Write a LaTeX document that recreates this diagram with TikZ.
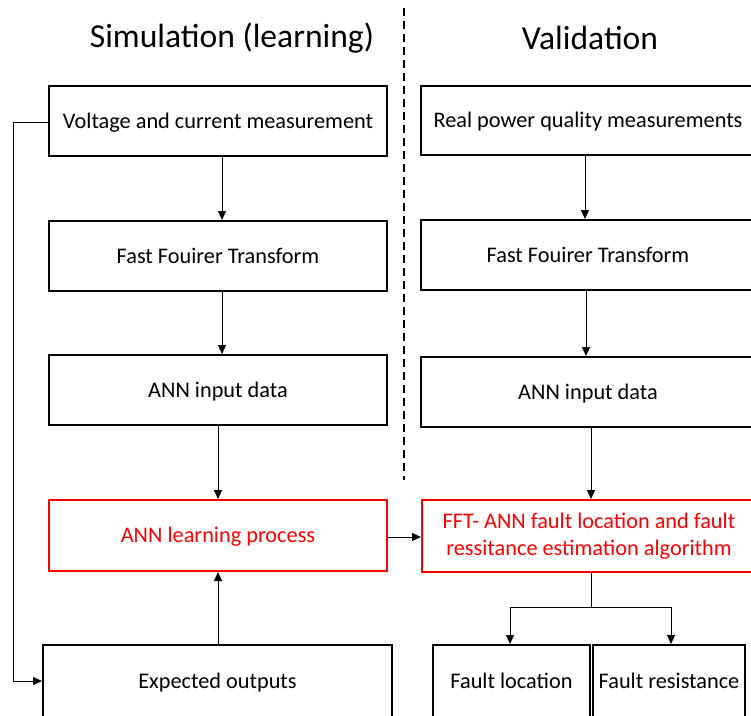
\documentclass[tikz,border=0pt]{standalone}
\usepackage{fontspec}
\setmainfont{Carlito}
\usetikzlibrary{arrows.meta}
\definecolor{flowred}{RGB}{255,0,0}
\tikzset{
  x=1pt, y=-1pt,
  framebox/.style={draw=black, line width=2pt, minimum width=338pt, minimum height=70pt,
    inner sep=0pt, font=\fontsize{22.3}{27}\selectfont, align=center},
  stepbox/.style={framebox, text height=18pt, text depth=4pt},
  redbox/.style={stepbox, draw=flowred, text=flowred},
  redtwoline/.style={framebox, draw=flowred, text=flowred},
  link/.style={line width=0.9pt, -{Triangle[length=9pt,width=8pt]}},
  plainlink/.style={line width=0.9pt},
  heading/.style={font=\fontsize{33.6}{38}\selectfont, inner sep=0pt}
}
\begin{document}
\begin{tikzpicture}
\useasboundingbox (0,0) rectangle (751,715);
\clip (0,0) rectangle (751,715);
\fill[white] (0,0) rectangle (751,715);

% column headings and separator
\node[heading] (hsim) at (232,38) {Simulation (learning)};
\node[heading] (hval) at (590,38) {Validation};
\draw[line width=1.6pt, dash pattern=on 8pt off 5pt] (404,8) -- (404,480);

% simulation column
\node[stepbox] (meas) at (218,121) {Voltage and current measurement};
\node[stepbox] (fftL) at (218,256) {Fast Fouirer Transform};
\node[stepbox] (annL) at (218,390) {ANN input data};
\node[redbox, minimum height=71pt] (learn) at (218,535.5) {ANN learning process};
\node[stepbox, minimum width=349pt, minimum height=72pt] (expo) at (217.5,681) {Expected outputs};

% validation column
\node[stepbox, minimum width=334pt, minimum height=69pt] (real) at (588,120.5) {Real power quality measurements};
\node[stepbox, minimum width=334pt] (fftR) at (588,255) {Fast Fouirer Transform};
\node[stepbox, minimum width=334pt] (annR) at (588,392) {ANN input data};
\node[redtwoline, minimum width=334pt, minimum height=72pt] (algo) at (589,536)
  {FFT- ANN fault location and fault\\ressitance estimation algorithm};
\node[stepbox, minimum width=157pt, minimum height=72pt, yshift=-1pt] (floc) at (511.5,680) {Fault location};
\node[stepbox, minimum width=152pt, minimum height=72pt] (fres) at (669,681) {Fault resistance};

% connectors, simulation column
\draw[link] (meas.south -| 222,0) -- (fftL.north -| 222,0);
\draw[link] (fftL.south -| 222,0) -- (annL.north -| 222,0);
\draw[link] (annL.south -| 218,0) -- (learn.north -| 218,0);
\draw[link] (expo.north -| 218,0) -- (learn.south -| 218,0);
\coordinate (fbtop) at (13,122);
\coordinate (fbbot) at (13,681);
\draw[plainlink] (meas.west |- 0,122) -- (fbtop) -- (fbbot);
\draw[link] (fbbot) -- (expo.west |- 0,681);

% connectors, validation column
\draw[link] (real.south -| 585,0) -- (fftR.north -| 585,0);
\draw[link] (fftR.south -| 586,0) -- (annR.north -| 586,0);
\draw[link] (annR.south -| 591,0) -- (algo.north -| 591,0);
\draw[link] (learn.east |- 0,537) -- (algo.west |- 0,537);
\coordinate (split) at (591,607);
\draw[plainlink] (algo.south -| 591,0) -- (split);
\draw[link] (split) -| (floc.north -| 510,0);
\draw[link] (split) -| (fres.north -| 671,0);
\end{tikzpicture}
\end{document}
